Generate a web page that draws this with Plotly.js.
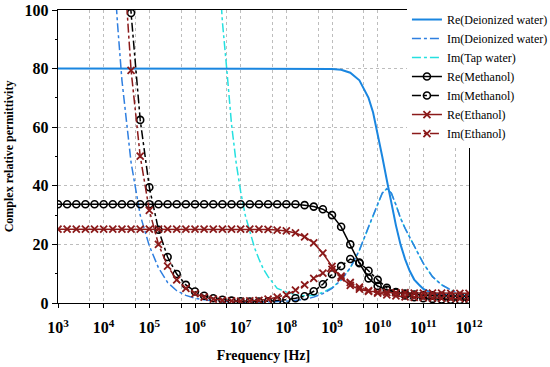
<!DOCTYPE html>
<html><head><meta charset="utf-8">
<script src="https://cdn.plot.ly/plotly-3.0.1.min.js"></script>
<style>html,body{margin:0;padding:0;background:#fff}#chart{width:550px;height:367px}</style>
</head><body><div id="chart"></div><script>
// Frequencies are given as exponents of 10 (Hz)
const waterReExp = [3, 4, 5, 6, 7, 8, 8.5, 9.0, 9.2, 9.4, 9.6, 9.8, 9.9, 10.0, 10.1, 10.2, 10.3, 10.4, 10.5, 10.6, 10.7, 10.8, 10.9, 11.0, 11.2, 11.4, 11.6, 11.8, 12.0];
const reDeionized = [80, 80, 80, 80, 80, 80, 80, 79.9, 79.6, 78.6, 76, 70, 65, 58, 50, 42, 34, 26.5, 20, 15, 11, 8, 6.3, 4.8, 3.3, 2.8, 2.5, 2.3, 2.2];

const imDeionizedExp = [4.2, 4.3, 4.4, 4.5, 4.6, 4.8, 5.0, 5.2, 5.4, 5.6, 5.8, 6.0, 6.3, 6.6, 7.0, 7.5, 8.0, 8.4, 8.6, 8.8, 9.0, 9.2, 9.4, 9.6, 9.8, 10.0, 10.1, 10.2, 10.3, 10.4, 10.5, 10.6, 10.8, 11.0, 11.2, 11.4, 11.6, 11.8, 12.0];
const imDeionized = [120, 96, 76, 61, 48, 30, 19.5, 12, 7, 4.2, 2.6, 1.6, 0.9, 0.5, 0.3, 0.3, 0.6, 1.2, 2.0, 3.2, 5.0, 7.8, 12, 18, 26, 34, 37.5, 39, 37.5, 33.5, 29, 25.5, 19.5, 13.5, 9, 6.2, 4.5, 3.0, 2.2];

const imTapExp = [6.5, 6.6, 6.7, 6.8, 6.9, 7.0, 7.1, 7.2, 7.3, 7.4, 7.5, 7.6, 7.8, 8.0, 8.2, 8.4, 8.6, 8.8, 9.0, 9.2, 9.4, 9.6, 9.8, 10.0, 10.1, 10.2, 10.3, 10.4, 10.5, 10.6, 10.8, 11.0, 11.2, 11.4, 11.6, 11.8, 12.0];
const imTap = [120, 96, 79, 61, 48, 38, 30, 24, 19, 15, 11.5, 9, 5.0, 3.8, 2.8, 2.5, 2.6, 3.6, 5.2, 7.9, 12, 18, 26, 34, 37.5, 39, 37.5, 33.5, 29, 25.5, 19.5, 13.5, 9, 6.2, 4.5, 3.0, 2.2];

const alcoholExp = [3.0, 3.2, 3.4, 3.6, 3.8, 4.0, 4.2, 4.4, 4.6, 4.8, 5.0, 5.2, 5.4, 5.6, 5.8, 6.0, 6.2, 6.4, 6.6, 6.8, 7.0, 7.2, 7.4, 7.6, 7.8, 8.0, 8.2, 8.4, 8.6, 8.8, 9.0, 9.2, 9.4, 9.6, 9.8, 10.0, 10.2, 10.4, 10.6, 10.8, 11.0, 11.2, 11.4, 11.6, 11.8, 12.0];
const reMethanol = [33.7, 33.7, 33.7, 33.7, 33.7, 33.7, 33.7, 33.7, 33.7, 33.7, 33.7, 33.7, 33.7, 33.7, 33.7, 33.7, 33.7, 33.7, 33.7, 33.7, 33.7, 33.7, 33.7, 33.7, 33.7, 33.7, 33.7,
  33.4, 32.9, 32.0, 30.0, 26.0, 20.0, 13.6, 8.4, 5.8, 4.5, 3.7, 3.2, 2.9, 2.7, 2.6, 2.5, 2.4, 2.4, 2.3];
const imMethanol = [null, null, null, null, null, null, null,
  157, 99, 62.5, 39.5, 25, 15.7, 9.9, 6.2, 3.9, 2.5, 1.6, 1.1, 0.8, 0.6, 0.5, 0.5, 0.6, 0.8, 1.1, 1.6, 2.3, 4.0, 6.4, 9.8, 12.6, 15.0, 13.8, 11.0, 7.9, 5.2, 3.6, 2.6, 2.0, 1.6, 1.4, 1.2, 1.1, 1.0, 1.0];
const reEthanol = [25.2, 25.2, 25.2, 25.2, 25.2, 25.2, 25.2, 25.2, 25.2, 25.2, 25.2, 25.2, 25.2, 25.2, 25.2, 25.2, 25.2, 25.2, 25.2, 25.2, 25.2, 25.2, 25.2,
  25.1, 24.9, 24.6, 23.9, 22.6, 20.5, 17.0, 12.5, 8.6, 6.0, 4.7, 4.0, 3.7, 3.6, 3.5, 3.5, 3.4, 3.4, 3.4, 3.4, 3.3, 3.3, 3.3];
const imEthanol = [null, null, null, null, null, null, null,
  126, 79.4, 50.1, 31.6, 20, 12.6, 7.9, 5.0, 3.2, 2.0, 1.3, 0.9, 0.7, 0.6, 0.7, 0.9, 1.3, 2.0, 2.8, 4.4, 6.2, 8.4, 10.2, 11.5, 9.2, 7.0, 5.4, 4.2, 3.4, 2.8, 2.4, 2.1, 1.9, 1.8, 1.7, 1.6, 1.5, 1.5, 1.4];

const tickExp = [3, 3.69897, 4, 4.69897, 5, 5.69897, 6, 6.69897, 7, 7.69897, 8, 8.69897, 9, 9.69897, 10, 10.69897, 11, 11.69897, 12];
const tickText = ['10<sup>3</sup>', '', '10<sup>4</sup>', '', '10<sup>5</sup>', '', '10<sup>6</sup>', '', '10<sup>7</sup>', '', '10<sup>8</sup>', '', '10<sup>9</sup>', '', '10<sup>10</sup>', '', '10<sup>11</sup>', '', '10<sup>12</sup>'];

const hz = a => a.map(e => Math.pow(10, e));
const serif = 'Liberation Serif, Times New Roman, serif';
const blue = '#1a86e0', blue2 = '#2f7fe0', cyan = '#25e0e0', red = '#8b1a1a';

const traces = [
  {name: 'Im(Tap water)', x: hz(imTapExp), y: imTap, mode: 'lines', legendrank: 3,
   line: {color: cyan, width: 1.5, dash: 'dashdot'}},
  {name: 'Re(Deionized water)', x: hz(waterReExp), y: reDeionized, mode: 'lines', legendrank: 1,
   line: {color: blue, width: 2}},
  {name: 'Im(Deionized water)', x: hz(imDeionizedExp), y: imDeionized, mode: 'lines', legendrank: 2,
   line: {color: blue2, width: 1.5, dash: 'dashdot'}},
  {name: 'Re(Methanol)', x: hz(alcoholExp), y: reMethanol, mode: 'lines+markers', legendrank: 4,
   line: {color: 'black', width: 1.5},
   marker: {symbol: 'circle-open', size: 7, color: 'black', line: {width: 1.6}}},
  {name: 'Im(Methanol)', x: hz(alcoholExp), y: imMethanol, mode: 'lines+markers', legendrank: 5,
   line: {color: 'black', width: 1.5, dash: 'dashdot'},
   marker: {symbol: 'circle-open', size: 7, color: 'black', line: {width: 1.6}}},
  {name: 'Re(Ethanol)', x: hz(alcoholExp), y: reEthanol, mode: 'lines+markers', legendrank: 6,
   line: {color: red, width: 1.5},
   marker: {symbol: 'x-thin-open', size: 7, color: red, line: {width: 1.8, color: red}}},
  {name: 'Im(Ethanol)', x: hz(alcoholExp), y: imEthanol, mode: 'lines+markers', legendrank: 7,
   line: {color: red, width: 1.5, dash: 'dashdot'},
   marker: {symbol: 'x-thin-open', size: 7, color: red, line: {width: 1.8, color: red}}}
];

const layout = {
  width: 550, height: 367,
  margin: {l: 58, r: 81, t: 10, b: 64, autoexpand: false},
  paper_bgcolor: 'white', plot_bgcolor: 'white',
  showlegend: true,
  legend: {x: 0.849, y: 1.017, xanchor: 'left', yanchor: 'top', bgcolor: 'white',
           font: {family: serif, size: 12, color: 'black'}, tracegroupgap: 0},
  xaxis: {
    type: 'log', range: [3, 12],
    tickvals: hz(tickExp), ticktext: tickText,
    tickfont: {family: serif, size: 16, color: 'black', weight: 'bold'},
    ticks: 'outside', ticklen: 4, tickcolor: 'black', ticklabelstandoff: 6,
    showgrid: true, gridcolor: '#bdbdbd', griddash: 'dot', gridwidth: 1,
    showline: true, linecolor: 'black', linewidth: 1.2, mirror: true,
    zeroline: false,
    title: {text: 'Frequency [Hz]', font: {family: serif, size: 14, color: 'black', weight: 'bold'}, standoff: 14}
  },
  yaxis: {
    range: [0, 100], dtick: 20, tick0: 0,
    tickfont: {family: serif, size: 16, color: 'black', weight: 'bold'},
    ticks: 'outside', ticklen: 5, tickcolor: 'black',
    minor: {dtick: 10, ticks: 'outside', ticklen: 2, tickcolor: 'black', showgrid: false},
    showgrid: true, gridcolor: '#bdbdbd', griddash: 'dot', gridwidth: 1,
    showline: true, linecolor: 'black', linewidth: 1.2, mirror: true,
    zeroline: false,
    title: {text: 'Complex relative permittivity', font: {family: serif, size: 12, color: 'black', weight: 'bold'}, standoff: 8}
  }
};

Plotly.newPlot('chart', traces, layout, {displayModeBar: false, staticPlot: true});
</script></body></html>
